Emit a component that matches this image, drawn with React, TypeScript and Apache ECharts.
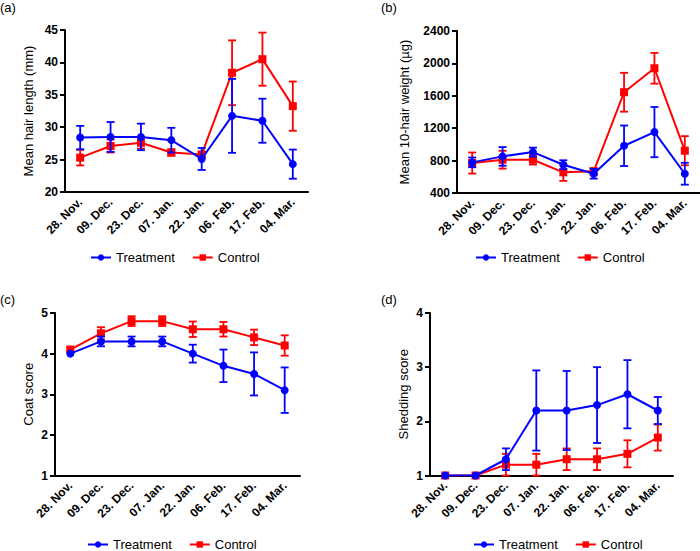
import React, { useEffect, useRef } from "react";
import * as echarts from "echarts";

const categories = ["28. Nov.", "09. Dec.", "23. Dec.", "07. Jan.", "22. Jan.", "06. Feb.", "17. Feb.", "04. Mar."];

const hairLenTreat = [28.4, 28.5, 28.5, 28.0, 25.1, 31.75, 31.0, 24.3];
const hairLenTreatSd = [1.8, 2.3, 2.05, 1.9, 1.7, 5.7, 3.4, 2.25];
const hairLenCtrl = [25.3, 27.1, 27.6, 26.1, 25.8, 38.4, 40.5, 33.25];
const hairLenCtrlSd = [1.2, 1.0, 0.9, 0.5, 0.4, 5.0, 4.1, 3.8];

const weightTreat = [778, 852, 905, 749, 638, 983, 1152, 638];
const weightTreatSd = [60, 115, 55, 55, 60, 250, 310, 135];
const weightCtrl = [770, 811, 811, 655, 667, 1644, 1940, 922];
const weightCtrlSd = [130, 110, 60, 105, 40, 240, 190, 180];

const coatTreat = [4.0, 4.3, 4.3, 4.3, 4.0, 3.7, 3.5, 3.1];
const coatTreatSd = [0, 0.12, 0.12, 0.12, 0.22, 0.4, 0.53, 0.56];
const coatCtrl = [4.1, 4.5, 4.8, 4.8, 4.6, 4.6, 4.4, 4.2];
const coatCtrlSd = [0.05, 0.15, 0.12, 0.12, 0.19, 0.18, 0.19, 0.25];

const shedTreat = [1, 1, 1.3, 2.2, 2.2, 2.3, 2.5, 2.2];
const shedTreatSd = [0, 0, 0.2, 0.74, 0.73, 0.7, 0.63, 0.25];
const shedCtrl = [1, 1, 1.2, 1.2, 1.3, 1.3, 1.4, 1.7];
const shedCtrlSd = [0, 0, 0.2, 0.2, 0.2, 0.2, 0.25, 0.24];

const seriesNames = ["Treatment", "Control"];
const panelLabels = ["(a)", "(b)", "(c)", "(d)"];
const yTitles = ["Mean hair length (mm)", "Mean 10-hair weight (µg)", "Coat score", "Shedding score"];

const BLUE = "#0000ff";
const RED = "#ff0000";
const FONT = "'Liberation Sans', Arial, sans-serif";

export default function App() {
  const ref = useRef<HTMLDivElement>(null);

  useEffect(() => {
    if (!ref.current) return;
    const chart = echarts.init(ref.current, undefined, { renderer: "svg" });

    const panels = [
      { grid: { left: 65, top: 30, width: 243, height: 162 }, min: 20, max: 45, interval: 5, gap: 30,
        t: hairLenTreat, tsd: hairLenTreatSd, c: hairLenCtrl, csd: hairLenCtrlSd,
        label: { left: 0, top: 1 }, legend: { left: 90, top: 251 } },
      { grid: { left: 457, top: 31, width: 243, height: 162 }, min: 400, max: 2400, interval: 400, gap: 46,
        t: weightTreat, tsd: weightTreatSd, c: weightCtrl, csd: weightCtrlSd,
        label: { left: 381, top: 1 }, legend: { left: 475, top: 251 } },
      { grid: { left: 55, top: 313, width: 245, height: 162.5 }, min: 1, max: 5, interval: 1, gap: 20,
        t: coatTreat, tsd: coatTreatSd, c: coatCtrl, csd: coatCtrlSd,
        label: { left: 0, top: 293 }, legend: { left: 87, top: 538 } },
      { grid: { left: 430, top: 313, width: 243, height: 162.5 }, min: 1, max: 4, interval: 1, gap: 20,
        t: shedTreat, tsd: shedTreatSd, c: shedCtrl, csd: shedCtrlSd,
        label: { left: 381, top: 293 }, legend: { left: 473, top: 538 } },
    ];

    const errRender = (color: string) => (params: any, api: any) => {
      const x = api.value(0);
      const lo = api.value(1);
      const hi = api.value(2);
      if (hi - lo <= 0) return null;
      const pHi = api.coord([x, hi]);
      const pLo = api.coord([x, lo]);
      const w = 4;
      const st = { stroke: color, lineWidth: 1.8 };
      return {
        type: "group",
        children: [
          { type: "line", shape: { x1: pHi[0], y1: pHi[1], x2: pLo[0], y2: pLo[1] }, style: st },
          { type: "line", shape: { x1: pHi[0] - w, y1: pHi[1], x2: pHi[0] + w, y2: pHi[1] }, style: st },
          { type: "line", shape: { x1: pLo[0] - w, y1: pLo[1], x2: pLo[0] + w, y2: pLo[1] }, style: st },
        ],
      };
    };

    const grid: any[] = [];
    const xAxis: any[] = [];
    const yAxis: any[] = [];
    const series: any[] = [];
    const legend: any[] = [];
    const title: any[] = [];

    panels.forEach((p, i) => {
      grid.push({ ...p.grid, containLabel: false });
      xAxis.push({
        type: "category",
        gridIndex: i,
        data: categories,
        boundaryGap: true,
        axisLine: { lineStyle: { color: "#000", width: 2 } },
        axisTick: { alignWithLabel: true, length: 5, lineStyle: { color: "#000", width: 2 } },
        axisLabel: { rotate: 45, fontFamily: FONT, fontWeight: "bold", fontSize: 12, color: "#000", margin: 8, interval: 0 },
      });
      yAxis.push({
        type: "value",
        gridIndex: i,
        min: p.min,
        max: p.max,
        interval: p.interval,
        name: yTitles[i],
        nameLocation: "middle",
        nameGap: p.gap,
        nameTextStyle: { fontFamily: FONT, fontSize: 13, color: "#000" },
        splitLine: { show: false },
        axisLine: { show: true, lineStyle: { color: "#000", width: 2 } },
        axisTick: { show: true, length: 5, lineStyle: { color: "#000", width: 2 } },
        axisLabel: {
          fontFamily: FONT, fontWeight: "bold", fontSize: 12, color: "#000", margin: 7,
          formatter: (v: number) => String(v),
        },
      });

      const groups = [
        { name: seriesNames[0], vals: p.t, sd: p.tsd, color: BLUE, symbol: "circle", z: 4 },
        { name: seriesNames[1], vals: p.c, sd: p.csd, color: RED, symbol: "rect", z: 3 },
      ];
      groups.forEach((g) => {
        series.push({
          type: "custom",
          name: g.name + " SD",
          xAxisIndex: i,
          yAxisIndex: i,
          z: g.z,
          renderItem: errRender(g.color),
          data: g.vals.map((v, k) => [k, v - g.sd[k], v + g.sd[k]]),
          silent: true,
        });
        series.push({
          type: "line",
          name: g.name,
          xAxisIndex: i,
          yAxisIndex: i,
          z: g.z,
          data: g.vals,
          symbol: g.symbol,
          symbolSize: 8,
          lineStyle: { color: g.color, width: 2 },
          itemStyle: { color: g.color },
        });
      });

      legend.push({
        data: seriesNames,
        left: p.legend.left,
        top: p.legend.top,
        padding: 0,
        itemWidth: 20,
        itemHeight: 8,
        itemGap: 17,
        textStyle: { fontFamily: FONT, fontSize: 13, color: "#000" },
      });
      title.push({
        text: panelLabels[i],
        left: p.label.left,
        top: p.label.top,
        padding: 0,
        textStyle: { fontFamily: FONT, fontSize: 13, fontWeight: "normal", color: "#000" },
      });
    });

    chart.setOption({
      animation: false,
      backgroundColor: "#fff",
      title,
      grid,
      xAxis,
      yAxis,
      legend,
      series,
    });

    return () => chart.dispose();
  }, []);

  return <div ref={ref} style={{ position: "fixed", left: 0, top: 0, width: 700, height: 551 }} />;
}
